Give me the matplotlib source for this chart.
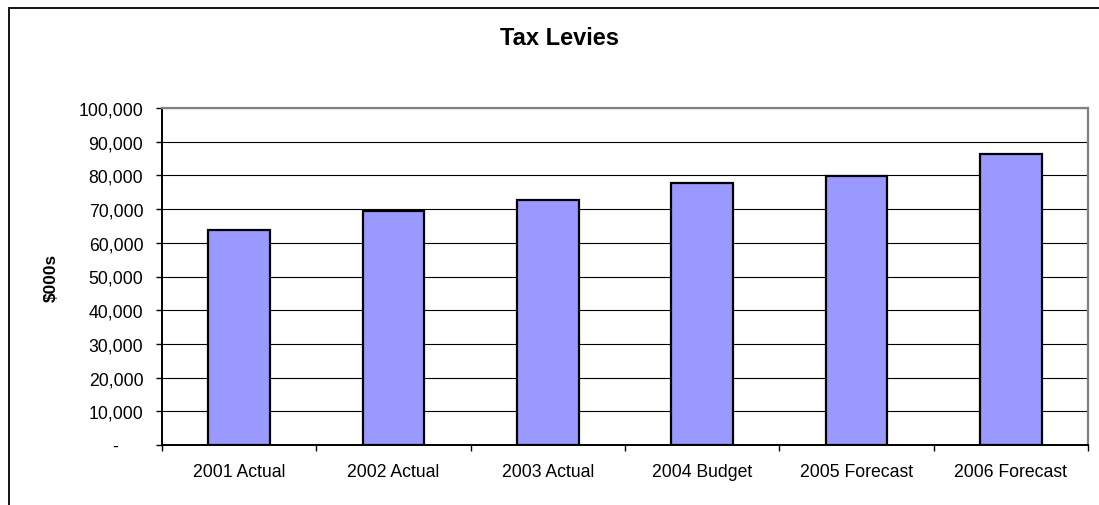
import matplotlib.pyplot as plt
from matplotlib.patches import Rectangle
from matplotlib.ticker import FuncFormatter, FixedLocator

plt.rcParams['font.family'] = ['Liberation Sans', 'DejaVu Sans']

categories = ['2001 Actual', '2002 Actual', '2003 Actual', '2004 Budget',
              '2005 Forecast', '2006 Forecast']
levies = [63900, 69300, 72700, 77700, 79700, 86300]
yticks = list(range(0, 100001, 10000))

fig = plt.figure(figsize=(10.99, 5.06), dpi=100)
ax = fig.add_axes([162 / 1099, 60 / 506, 926 / 1099, 337 / 506])

x = list(range(len(categories)))
ax.bar(x, levies, width=0.40, color='#9999FF', edgecolor='black',
       linewidth=1.6, zorder=3)

ax.set_xlim(-0.5, len(categories) - 0.5)
ax.set_ylim(0, 100000)
ax.set_yticks(yticks)
ax.yaxis.grid(True, color='black', linewidth=0.8, zorder=0)


def acct(v, pos):
    if v == 0:
        return '-     '
    return f'{int(v):,}'


ax.yaxis.set_major_formatter(FuncFormatter(acct))
ax.tick_params(axis='y', direction='out', length=4.5, width=1, pad=9,
               labelsize=12.7, color='black')

ax.set_xticks(x)
ax.set_xticklabels(categories)
ax.xaxis.set_minor_locator(FixedLocator([i - 0.5 for i in range(len(categories) + 1)]))
ax.tick_params(axis='x', which='major', length=0, pad=13, labelsize=12.7)
ax.tick_params(axis='x', which='minor', direction='out', length=4.5, width=1,
               color='black')

for side in ('top', 'right'):
    ax.spines[side].set_color('#808080')
    ax.spines[side].set_linewidth(1.6)
for side in ('left', 'bottom'):
    ax.spines[side].set_color('black')
    ax.spines[side].set_linewidth(1.4)

ax.set_ylabel('$000s', fontsize=12.4, fontweight='bold', labelpad=14)

fig.text(559 / 1099, 1 - 38.5 / 506, 'Tax Levies', ha='center', va='center',
         fontsize=17, fontweight='bold')

# chart frame, running off the right and bottom edges
fig.patches.append(Rectangle((8.5 / 1099, -0.2), 1.2, 1 - 8.5 / 506 + 0.2,
                             transform=fig.transFigure, fill=False,
                             edgecolor='black', linewidth=1.3))

fig.savefig('out.png', dpi=100)
